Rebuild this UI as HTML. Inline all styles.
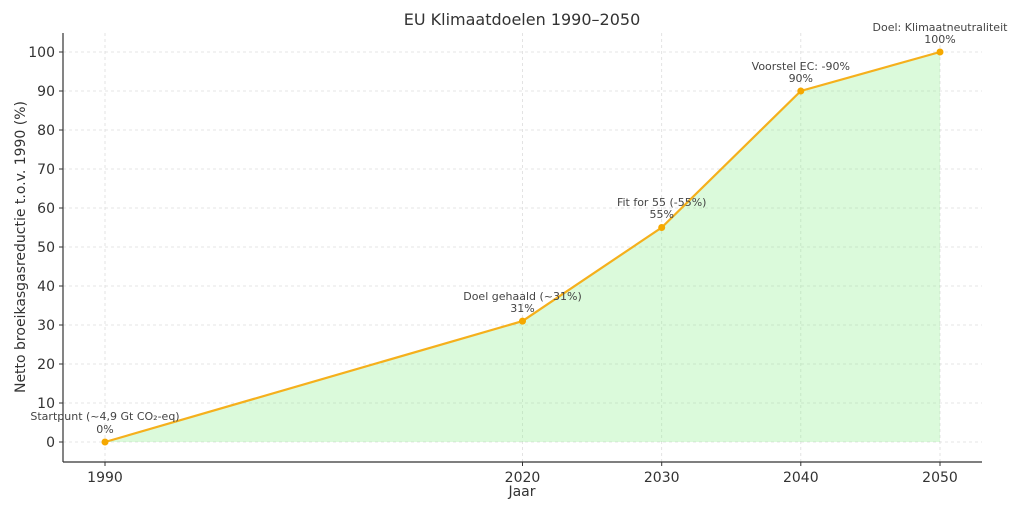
<!DOCTYPE html>
<html><head><meta charset="utf-8"><style>body{margin:0;background:#fff}svg{display:block}</style></head><body>
<svg width="1024" height="512" xmlns="http://www.w3.org/2000/svg" font-family="DejaVu Sans, Liberation Sans, sans-serif">
<rect width="1024" height="512" fill="#fff"/>
<g stroke="#dcdcdc" stroke-width="0.8" stroke-dasharray="3,3">
<line x1="105" y1="33" x2="105" y2="462"/><line x1="522.5" y1="33" x2="522.5" y2="462"/><line x1="661.7" y1="33" x2="661.7" y2="462"/><line x1="800.8" y1="33" x2="800.8" y2="462"/><line x1="940" y1="33" x2="940" y2="462"/>
<line x1="63" y1="442" x2="982" y2="442"/><line x1="63" y1="403" x2="982" y2="403"/><line x1="63" y1="364" x2="982" y2="364"/><line x1="63" y1="325" x2="982" y2="325"/><line x1="63" y1="286" x2="982" y2="286"/><line x1="63" y1="247" x2="982" y2="247"/><line x1="63" y1="208" x2="982" y2="208"/><line x1="63" y1="169" x2="982" y2="169"/><line x1="63" y1="130" x2="982" y2="130"/><line x1="63" y1="91" x2="982" y2="91"/><line x1="63" y1="52" x2="982" y2="52"/>
</g>
<polygon points="105,442 522.5,321.1 661.7,227.5 800.8,91 940,52 940,442" fill="#90ee90" fill-opacity="0.32"/>
<polyline points="105,442 522.5,321.1 661.7,227.5 800.8,91 940,52" fill="none" stroke="#f5b01c" stroke-width="2.2"/>
<g fill="#f5a800"><circle cx="105" cy="442" r="3.5"/><circle cx="522.5" cy="321.1" r="3.5"/><circle cx="661.7" cy="227.5" r="3.5"/><circle cx="800.8" cy="91" r="3.5"/><circle cx="940" cy="52" r="3.5"/></g>
<g stroke="#333" stroke-width="1.2"><line x1="63" y1="33" x2="63" y2="462"/><line x1="63" y1="462" x2="982" y2="462"/></g>
<g stroke="#333" stroke-width="1">
<line x1="105" y1="462" x2="105" y2="466"/><line x1="522.5" y1="462" x2="522.5" y2="466"/><line x1="661.7" y1="462" x2="661.7" y2="466"/><line x1="800.8" y1="462" x2="800.8" y2="466"/><line x1="940" y1="462" x2="940" y2="466"/>
<line x1="59" y1="442" x2="63" y2="442"/><line x1="59" y1="403" x2="63" y2="403"/><line x1="59" y1="364" x2="63" y2="364"/><line x1="59" y1="325" x2="63" y2="325"/><line x1="59" y1="286" x2="63" y2="286"/><line x1="59" y1="247" x2="63" y2="247"/><line x1="59" y1="208" x2="63" y2="208"/><line x1="59" y1="169" x2="63" y2="169"/><line x1="59" y1="130" x2="63" y2="130"/><line x1="59" y1="91" x2="63" y2="91"/><line x1="59" y1="52" x2="63" y2="52"/>
</g>
<g font-size="14" fill="#333" text-anchor="middle">
<text x="105" y="482">1990</text><text x="522.5" y="482">2020</text><text x="661.7" y="482">2030</text><text x="800.8" y="482">2040</text><text x="940" y="482">2050</text>
</g>
<g font-size="14" fill="#333" text-anchor="end">
<text x="55" y="447">0</text><text x="55" y="408">10</text><text x="55" y="369">20</text><text x="55" y="330">30</text><text x="55" y="291">40</text><text x="55" y="252">50</text><text x="55" y="213">60</text><text x="55" y="174">70</text><text x="55" y="135">80</text><text x="55" y="96">90</text><text x="55" y="57">100</text>
</g>
<text x="522" y="496" font-size="14" fill="#333" text-anchor="middle">Jaar</text>
<text transform="translate(25,247) rotate(-90)" font-size="14" fill="#333" text-anchor="middle">Netto broeikasgasreductie t.o.v. 1990 (%)</text>
<text x="522" y="25" font-size="16" fill="#333" text-anchor="middle">EU Klimaatdoelen 1990–2050</text>
<g font-size="11" fill="#444" text-anchor="middle">
<text x="105" y="420">Startpunt (~4,9 Gt CO₂-eq)</text><text x="105" y="433">0%</text>
<text x="522.5" y="300">Doel gehaald (~31%)</text><text x="522.5" y="312">31%</text>
<text x="661.7" y="206">Fit for 55 (-55%)</text><text x="661.7" y="218">55%</text>
<text x="800.8" y="70">Voorstel EC: -90%</text><text x="800.8" y="82">90%</text>
<text x="940" y="31">Doel: Klimaatneutraliteit</text><text x="940" y="43">100%</text>
</g>
</svg>
</body></html>
